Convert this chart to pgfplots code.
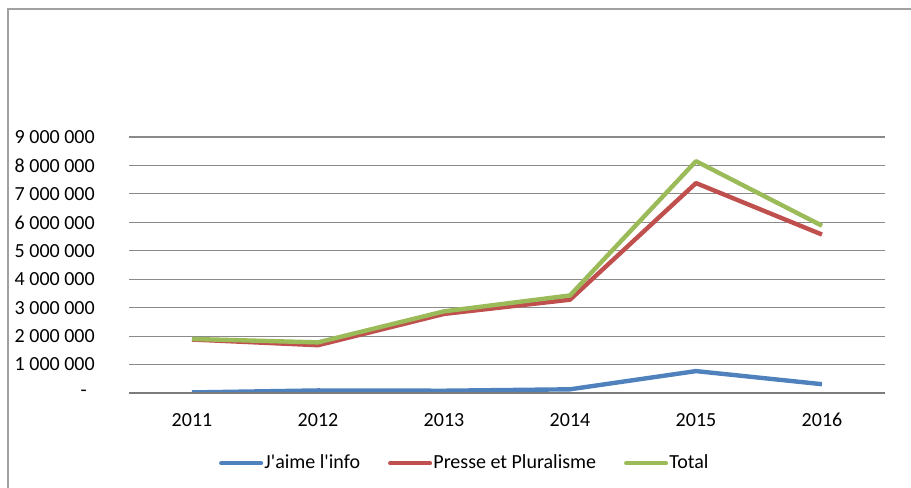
\documentclass[border=0pt]{standalone}
\usepackage{pgfplots}
\pgfplotsset{compat=1.18}
\usepackage{fontspec}
\setmainfont{Carlito}
\definecolor{sblue}{HTML}{4F81BD}
\definecolor{sred}{HTML}{C0504D}
\definecolor{sgreen}{HTML}{9BBB59}
\definecolor{gridc}{HTML}{8A8A8A}
\begin{document}
\fontsize{15}{18}\selectfont
\begin{tikzpicture}
\useasboundingbox (0pt,0pt) rectangle (683.25pt,365.25pt);
\draw[gridc!80, line width=1.2pt] (6pt,-2pt) -- (6pt,358.5pt) -- (690pt,358.5pt);
\begin{axis}[
  at={(96.75pt,70.5pt)}, anchor=south west,
  scale only axis, width=567pt, height=192pt,
  xmin=-0.5, xmax=5.5, ymin=0, ymax=9000000,
  axis line style={draw=none},
  xtick={0,1,2,3,4,5},
  xticklabels={2011,2012,2013,2014,2015,2016},
  ytick={0,1000000,2000000,3000000,4000000,5000000,6000000,7000000,8000000,9000000},
  yticklabels={-\hspace*{6pt},1 000 000,2 000 000,3 000 000,4 000 000,5 000 000,6 000 000,7 000 000,8 000 000,9 000 000},
  scaled y ticks=false,
  major tick length=0pt,
  ymajorgrids, grid style={gridc, line width=0.8pt},
  yticklabel style={anchor=east, inner sep=0pt, xshift=-25.5pt, font=\fontsize{15}{18}\selectfont},
  xticklabel style={anchor=north, inner sep=0pt, yshift=-15pt, font=\fontsize{15}{18}\selectfont},
  legend columns=3,
  legend style={draw=none, at={(0.4438,-0.275)}, anchor=center, inner sep=0pt,
    font=\fontsize{15}{18}\selectfont,
    nodes={inner sep=1pt},
    /tikz/every even column/.append style={column sep=20pt}},
  legend image code/.code={\draw[#1, line width=3pt, line cap=round] (0pt,0pt) -- (30pt,0pt);},
  every axis plot/.append style={line width=3.3pt, line join=round, mark=none},
]
\addplot[sblue] coordinates {(0,20000) (1,90000) (2,80000) (3,130000) (4,770000) (5,310000)};
\addplot[sred] coordinates {(0,1880000) (1,1680000) (2,2780000) (3,3280000) (4,7380000) (5,5570000)};
\addplot[sgreen] coordinates {(0,1900000) (1,1780000) (2,2870000) (3,3430000) (4,8150000) (5,5880000)};
\draw[gridc!90!black, line width=1.3pt] (axis cs:-0.5,0) -- (axis cs:5.5,0);
\legend{J\textquotesingle aime l\textquotesingle info, Presse et Pluralisme, Total}
\end{axis}
\end{tikzpicture}
\end{document}
